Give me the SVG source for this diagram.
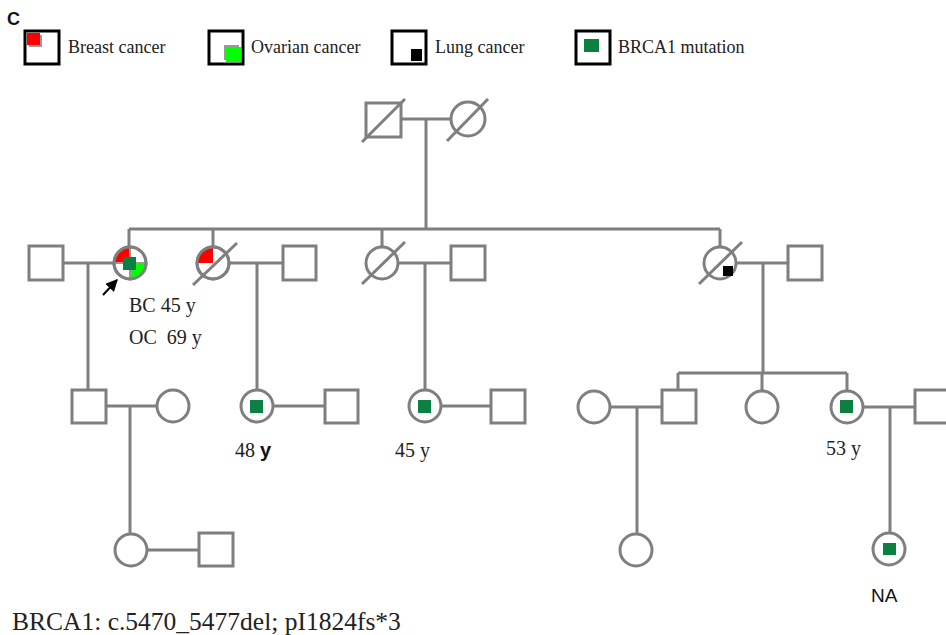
<svg xmlns="http://www.w3.org/2000/svg" width="946" height="635" viewBox="0 0 946 635">
<defs>
<style>
.ln{stroke:#7f7f7f;stroke-width:3;fill:none}
.nd{stroke:#7f7f7f;stroke-width:3;fill:#fff}
.lg{stroke:#000;stroke-width:3;fill:#fff}
.t{font-family:"Liberation Serif","Times New Roman",serif;fill:#222}
.ts{font-family:"Liberation Sans",Arial,sans-serif;fill:#111}
.lab{font-size:20px}
.mut{fill:#0b8040}
</style>
<marker id="ar" viewBox="0 0 10 10" refX="9" refY="5" markerWidth="6" markerHeight="6" orient="auto"><path d="M0,0 L10,5 L0,10 z" fill="#000"/></marker>
</defs>
<rect width="946" height="635" fill="#fff"/>

<text x="7" y="25" class="ts" style="font-size:18px;font-weight:bold">C</text>

<g id="legend">
  <g id="leg-breast">
    <rect x="25" y="31" width="34" height="33" class="lg"/>
    <rect x="29" y="35" width="13" height="12" fill="#999"/>
    <rect x="27" y="33" width="13" height="12" fill="#f00"/>
    <text x="68" y="53" class="t" style="font-size:18px">Breast cancer</text>
  </g>
  <g id="leg-ovarian">
    <rect x="209" y="31" width="34" height="33" class="lg"/>
    <rect x="224" y="45" width="15" height="15" fill="#999"/>
    <rect x="226" y="47" width="15" height="15" fill="#0f0"/>
    <text x="251" y="53" class="t" style="font-size:18px">Ovarian cancer</text>
  </g>
  <g id="leg-lung">
    <rect x="392" y="31" width="34" height="33" class="lg"/>
    <rect x="411" y="49" width="11" height="12" fill="#000"/>
    <text x="435" y="53" class="t" style="font-size:18px">Lung cancer</text>
  </g>
  <g id="leg-brca">
    <rect x="576" y="31" width="34" height="33" class="lg"/>
    <rect x="584" y="39" width="15" height="13" class="mut"/>
    <text x="618" y="53" class="t" style="font-size:18px">BRCA1 mutation</text>
  </g>
</g>

<g id="connectors">
  <line x1="401" y1="119" x2="451" y2="119" class="ln"/>
  <line x1="426" y1="119" x2="426" y2="229" class="ln"/>
  <line x1="129" y1="229" x2="720" y2="229" class="ln"/>
  <line x1="129" y1="229" x2="129" y2="247" class="ln"/>
  <line x1="213" y1="229" x2="213" y2="247" class="ln"/>
  <line x1="382" y1="229" x2="382" y2="246" class="ln"/>
  <line x1="720" y1="229" x2="720" y2="247" class="ln"/>
  <line x1="63" y1="263" x2="114" y2="263" class="ln"/>
  <line x1="88" y1="263" x2="88" y2="390" class="ln"/>
  <line x1="229" y1="263" x2="283" y2="263" class="ln"/>
  <line x1="257" y1="263" x2="257" y2="390" class="ln"/>
  <line x1="398" y1="263" x2="451" y2="263" class="ln"/>
  <line x1="425" y1="263" x2="425" y2="390" class="ln"/>
  <line x1="736" y1="263" x2="788" y2="263" class="ln"/>
  <line x1="763" y1="263" x2="763" y2="373" class="ln"/>
  <line x1="678" y1="373" x2="847" y2="373" class="ln"/>
  <line x1="678" y1="373" x2="678" y2="390" class="ln"/>
  <line x1="762" y1="373" x2="762" y2="391" class="ln"/>
  <line x1="847" y1="373" x2="847" y2="391" class="ln"/>
  <line x1="106" y1="406" x2="157" y2="406" class="ln"/>
  <line x1="130" y1="406" x2="130" y2="534" class="ln"/>
  <line x1="273" y1="406" x2="325" y2="406" class="ln"/>
  <line x1="441" y1="406" x2="491" y2="406" class="ln"/>
  <line x1="610" y1="407" x2="662" y2="407" class="ln"/>
  <line x1="637" y1="407" x2="637" y2="534" class="ln"/>
  <line x1="863" y1="407" x2="915" y2="407" class="ln"/>
  <line x1="890" y1="407" x2="890" y2="533" class="ln"/>
  <line x1="147" y1="550" x2="199" y2="550" class="ln"/>
  <line x1="103" y1="295" x2="117" y2="280" stroke="#000" stroke-width="2" marker-end="url(#ar)"/>
</g>

<g id="I-1">
  <rect x="366" y="103" width="35" height="34" class="nd"/>
  <line x1="362" y1="142" x2="405" y2="99" class="ln"/>
</g>
<g id="I-2">
  <circle cx="468" cy="119" r="17" class="nd"/>
  <line x1="447" y1="141" x2="488" y2="99" class="ln"/>
</g>

<g id="II-1">
  <rect x="29" y="246" width="34" height="34" class="nd"/>
</g>
<g id="II-2">
  <circle cx="130" cy="263" r="16" class="nd"/>
  <path d="M130,263 L114,263 A16,16 0 0 1 130,247 Z" fill="#f00"/>
  <path d="M130,263 L146,263 A16,16 0 0 1 130,279 Z" fill="#0f0"/>
  <line x1="114" y1="263" x2="146" y2="263" stroke="#999" stroke-width="2"/>
  <line x1="130" y1="247" x2="130" y2="279" stroke="#999" stroke-width="2"/>
  <circle cx="130" cy="263" r="16" class="ln"/>
  <rect x="123" y="257" width="13" height="13" class="mut"/>
  <text x="129" y="312" class="t lab">BC 45 y</text>
  <text x="129" y="344" class="t lab" xml:space="preserve">OC  69 y</text>
</g>
<g id="II-3">
  <circle cx="213" cy="263" r="16" class="nd"/>
  <path d="M213,263 L197,263 A16,16 0 0 1 213,247 Z" fill="#f00"/>
  <circle cx="213" cy="263" r="16" class="ln"/>
  <line x1="193" y1="285" x2="237" y2="243" class="ln"/>
</g>
<g id="II-4">
  <rect x="283" y="246" width="33" height="34" class="nd"/>
</g>
<g id="II-5">
  <circle cx="382" cy="263" r="16" class="nd"/>
  <line x1="362" y1="284" x2="405" y2="242" class="ln"/>
</g>
<g id="II-6">
  <rect x="451" y="246" width="34" height="34" class="nd"/>
</g>
<g id="II-7">
  <circle cx="720" cy="263" r="16" class="nd"/>
  <rect x="723" y="266" width="10" height="10" fill="#000"/>
  <line x1="699" y1="284" x2="742" y2="242" class="ln"/>
</g>
<g id="II-8">
  <rect x="788" y="246" width="34" height="34" class="nd"/>
</g>

<g id="III-1"><rect x="72" y="390" width="34" height="33" class="nd"/></g>
<g id="III-2"><circle cx="173" cy="406" r="16" class="nd"/></g>
<g id="III-3">
  <circle cx="257" cy="406" r="16" class="nd"/>
  <rect x="250" y="400" width="13" height="13" class="mut"/>
  <text x="235" y="457" class="t lab">48 <tspan class="ts" style="font-size:20px;font-weight:bold">y</tspan></text>
</g>
<g id="III-4"><rect x="325" y="390" width="33" height="33" class="nd"/></g>
<g id="III-5">
  <circle cx="425" cy="406" r="16" class="nd"/>
  <rect x="418" y="400" width="13" height="13" class="mut"/>
  <text x="395" y="457" class="t lab">45 y</text>
</g>
<g id="III-6"><rect x="491" y="390" width="34" height="33" class="nd"/></g>
<g id="III-7"><circle cx="594" cy="407" r="16" class="nd"/></g>
<g id="III-8"><rect x="662" y="390" width="34" height="33" class="nd"/></g>
<g id="III-9"><circle cx="762" cy="407" r="16" class="nd"/></g>
<g id="III-10">
  <circle cx="847" cy="407" r="16" class="nd"/>
  <rect x="840" y="400" width="13" height="13" class="mut"/>
  <text x="826" y="455" class="t lab">53 y</text>
</g>
<g id="III-11"><rect x="915" y="390" width="40" height="33" class="nd"/></g>

<g id="IV-1"><circle cx="131" cy="550" r="16" class="nd"/></g>
<g id="IV-2"><rect x="199" y="533" width="34" height="33" class="nd"/></g>
<g id="IV-3"><circle cx="636" cy="550" r="16" class="nd"/></g>
<g id="IV-4">
  <circle cx="889" cy="549" r="16" class="nd"/>
  <rect x="883" y="543" width="13" height="12" class="mut"/>
  <text x="871" y="602" class="ts" style="font-size:19px">NA</text>
</g>

<text x="12" y="630" class="t" style="font-size:25.5px">BRCA1: c.5470_5477del; pI1824fs*3</text>
</svg>
